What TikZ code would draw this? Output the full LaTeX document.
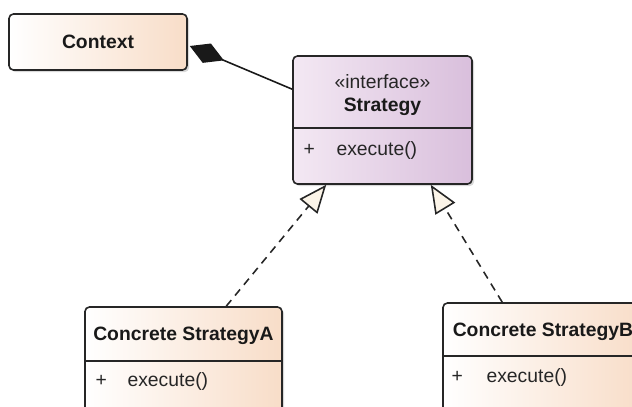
\documentclass[tikz,border=0pt]{standalone}
\usepackage{fontspec}
\setmainfont{Liberation Sans}
\usetikzlibrary{arrows.meta,calc,shadows}
\definecolor{peachR}{HTML}{F8DDC8}
\definecolor{lilacL}{HTML}{F3E8F3}
\definecolor{lilacR}{HTML}{D9BFDC}
\definecolor{tipfill}{HTML}{FBF4E8}

\begin{document}
\begin{tikzpicture}[
  x=0.02cm, y=-0.02cm,
  font=\fontsize{11}{13}\selectfont,
  classbox/.style={rectangle, rounded corners=2.5pt, draw=black!85, line width=0.9pt,
                   left color=white, right color=peachR,
                   drop shadow={shadow xshift=1.2pt, shadow yshift=-1.2pt, opacity=0.3}},
  ifacebox/.style={classbox, left color=lilacL, right color=lilacR},
  cname/.style={font=\fontsize{11}{13}\selectfont\bfseries, text=black!90, inner sep=0pt},
  member/.style={text=black!85, inner sep=0pt},
  divider/.style={draw=black!85, line width=0.9pt},
  comp/.style={{Diamond[length=0.74cm,width=0.42cm]}-, line width=0.9pt, draw=black!90},
  realize/.style={-{Triangle[length=0.56cm,width=0.46cm,fill=tipfill]}, line width=0.9pt,
                  draw=black!85, dash pattern=on 4.5pt off 3.4pt},
]
\useasboundingbox (0,0) rectangle (632,406);
\clip (0,0) rectangle (632,406);

\node[classbox, minimum width=3.56cm, minimum height=1.12cm, font=\fontsize{11}{13}\selectfont\bfseries, text=black!90] (Context) at (98,42) {Context};
\node[ifacebox, minimum width=3.58cm, minimum height=2.56cm] (Strategy) at (382.5,120) {};
\node[classbox, minimum width=3.94cm, minimum height=2.46cm] (A) at (183.5,368.5) {};
\node[classbox, minimum width=4cm, minimum height=2.54cm] (B) at (543,366.5) {};

% compartments
\draw[divider] ($(Strategy.north west)+(0,73)$) -- ($(Strategy.north east)+(0,73)$);
\draw[divider] ($(A.north west)+(0,55)$) -- ($(A.north east)+(0,55)$);
\draw[divider] ($(B.north west)+(0,54)$) -- ($(B.north east)+(0,54)$);

\node[member] (sstereo) at ($(Strategy.north)+(0,26)$) {«interface»};
\node[cname]  (sname)   at ($(Strategy.north)+(0,52)$) {Strategy};
\node[member] (splus)   at ($(Strategy.north west)+(17,95)$) {+};
\node[member, anchor=west] (sexec) at ($(Strategy.north west)+(44,95)$) {execute()};

\node[cname]  (aname)   at ($(A.north)+(0,30)$) {Concrete StrategyA};
\node[member] (aplus)   at ($(A.north west)+(17,75)$) {+};
\node[member, anchor=west] (aexec) at ($(A.north west)+(43,75)$) {execute()};

\node[cname]  (bname)   at ($(B.north)+(0,30)$) {Concrete StrategyB};
\node[member] (bplus)   at ($(B.north west)+(15,75)$) {+};
\node[member, anchor=west] (bexec) at ($(B.north west)+(44,75)$) {execute()};

\draw[comp] ($(Context.east)+(2,4)$) -- ($(Strategy.north west)+(0,34)$);
\draw[realize] ($(A.north west)+(142,0)$) -- ($(Strategy.south west)+(34,0)$);
\draw[realize] ($(B.north west)+(60,0)$) -- ($(Strategy.south east)+(-42,0)$);

\end{tikzpicture}
\end{document}
